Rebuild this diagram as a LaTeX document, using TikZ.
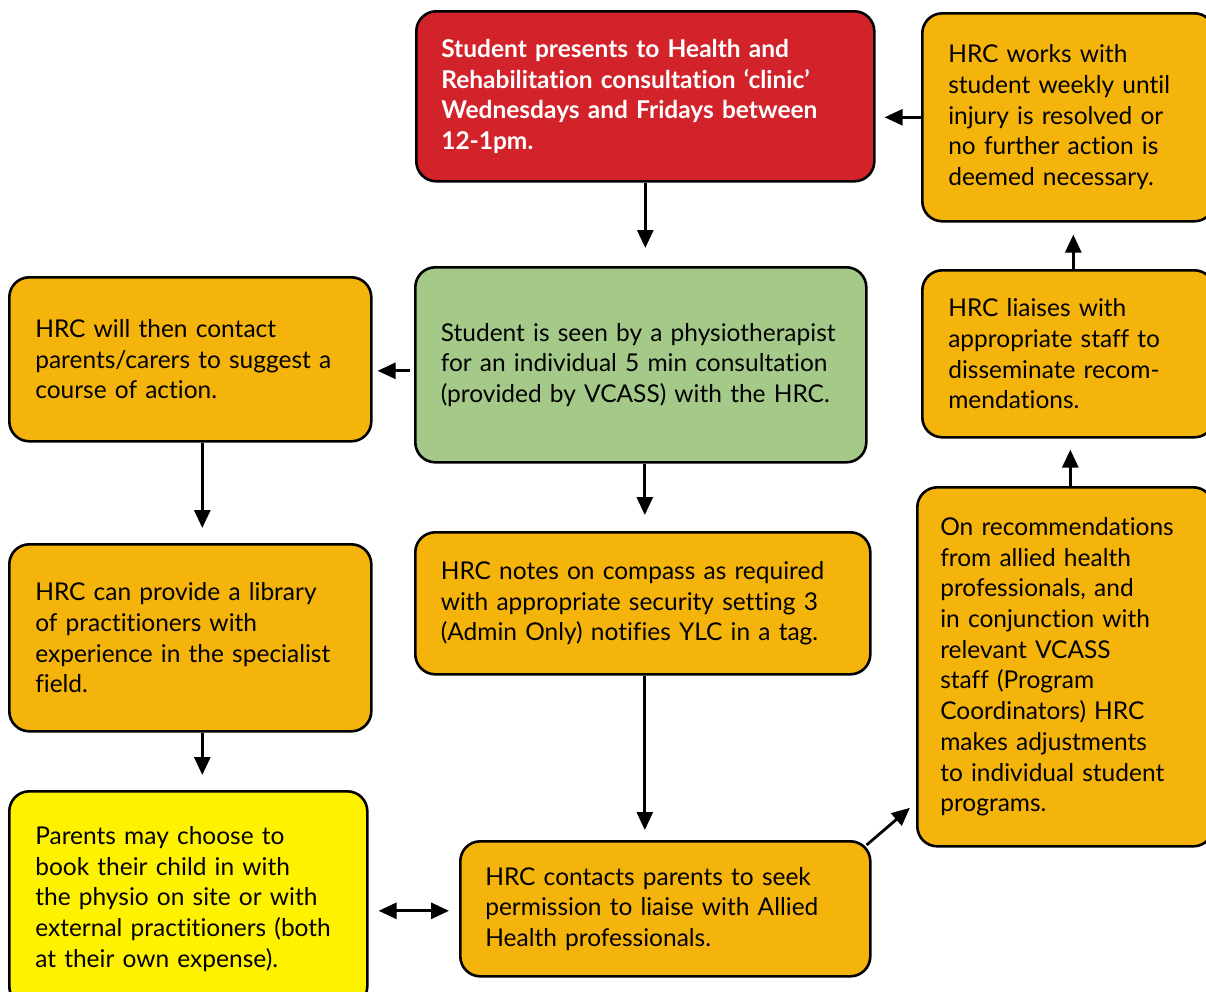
\documentclass[tikz,border=0pt]{standalone}
\usepackage{fontspec}
\usepackage{xcolor}
\usepackage{tikz}
\setmainfont[Ligatures=NoCommon]{Lato}
\usetikzlibrary{positioning, calc, arrows.meta}

\definecolor{clinicred}{RGB}{210,35,42}
\definecolor{hrcorange}{RGB}{244,180,12}
\definecolor{physiogreen}{RGB}{164,201,136}
\definecolor{parentyellow}{RGB}{255,242,0}

\tikzset{
	stepbox/.style={draw=black, line width=2.6pt, rounded corners=20pt, anchor=north west,
		align=left, inner xsep=0pt, inner ysep=0pt, font=\fontsize{24.5}{30.7}\selectfont},
	arr/.style={line width=2.8pt, -{Triangle[length=18pt,width=16pt]}},
	dblarr/.style={line width=2.8pt, {Triangle[length=18pt,width=16pt]}-{Triangle[length=18pt,width=16pt]}}
}

\begin{document}
\begin{tikzpicture}[x=1pt, y=-1pt]
	\useasboundingbox (0,0) rectangle (1206,991);

	\node[stepbox, fill=clinicred, text=white, font=\fontsize{24.5}{30.7}\selectfont\bfseries,
		minimum width=458pt, minimum height=170pt, text width=408pt] (presents) at (415,10)
		{Student presents to Health and\\Rehabilitation consultation `clinic'\\Wednesdays and Fridays between\\12-1pm.};
	\node[stepbox, fill=physiogreen, minimum width=451pt, minimum height=195pt, text width=400pt] (seen) at (414,266)
		{Student is seen by a physiotherapist\\for an individual 5 min consultation\\(provided by VCASS) with the HRC.};
	\node[stepbox, fill=hrcorange, minimum width=455pt, minimum height=142pt, text width=404pt] (notes) at (414,531)
		{HRC notes on compass as required\\with appropriate security setting 3\\(Admin Only) notifies YLC in a tag.};
	\node[stepbox, fill=hrcorange, minimum width=410pt, minimum height=135pt, text width=360pt] (contacts) at (459,840)
		{HRC contacts parents to seek\\permission to liaise with Allied\\Health professionals.};

	\node[stepbox, fill=hrcorange, minimum width=362pt, minimum height=164pt, text width=310pt] (contact) at (8,276)
		{HRC will then contact\\parents/carers to suggest a\\course of action.};
	\node[stepbox, fill=hrcorange, minimum width=362pt, minimum height=187pt, text width=310pt] (library) at (8,543)
		{HRC can provide a library\\of practitioners with\\experience in the specialist\\field.};
	\node[stepbox, fill=parentyellow, minimum width=358pt, minimum height=215pt, text width=306pt] (parents) at (8,790)
		{Parents may choose to\\book their child in with\\the physio on site or with\\external practitioners (both\\at their own expense).};

	\node[stepbox, fill=hrcorange, minimum width=292pt, minimum height=208pt, text width=240pt] (works) at (921,12)
		{HRC works with\\student weekly until\\injury is resolved or\\no further action is\\deemed necessary.};
	\node[stepbox, fill=hrcorange, minimum width=292pt, minimum height=167pt, text width=240pt] (liaises) at (921,269)
		{HRC liaises with\\appropriate staff to\\disseminate recom-\\mendations.};
	\node[stepbox, fill=hrcorange, minimum width=296pt, minimum height=359pt, text width=250pt] (recs) at (916,486)
		{On recommendations\\from allied health\\professionals, and\\in conjunction with\\relevant VCASS\\staff (Program\\Coordinators) HRC\\makes adjustments\\to individual student\\programs.};

	% connectors
	\draw[arr, shorten >=18pt] (presents.south) -- (presents.south |- seen.north);
	\draw[arr, shorten >=9pt] (works.west) -- (works.west -| presents.east);
	\draw[arr, shorten <=4pt, shorten >=5pt] ([yshift=-6pt]seen.west) -- ([yshift=-6pt]seen.west -| contact.east);
	\draw[arr, shorten >=16pt] ([xshift=4pt]seen.south) -- ([xshift=4pt]seen.south |- notes.north);
	\draw[arr, shorten >=15pt] ([xshift=12pt]contact.south) -- ([xshift=12pt]contact.south |- library.north);
	\draw[arr, shorten >=15pt] ([xshift=12pt]library.south) -- ([xshift=12pt]library.south |- parents.north);
	\draw[arr, shorten >=10pt] ([xshift=2pt]notes.south) -- ([xshift=2pt]notes.south |- contacts.north);
	\draw[dblarr, shorten <=10pt, shorten >=10pt] ([yshift=-2pt]contacts.west) -- ([yshift=-2pt]contacts.west -| parents.east);
	\draw[arr, shorten >=8pt] ([xshift=-5pt,yshift=-5pt]contacts.north east) -- ([yshift=45pt]recs.south west);
	\draw[arr, shorten >=11pt] ([xshift=5pt]recs.north) -- ([xshift=5pt]recs.north |- liaises.south);
	\draw[arr, shorten >=12pt] ([xshift=5pt]liaises.north) -- ([xshift=5pt]liaises.north |- works.south);
\end{tikzpicture}
\end{document}
